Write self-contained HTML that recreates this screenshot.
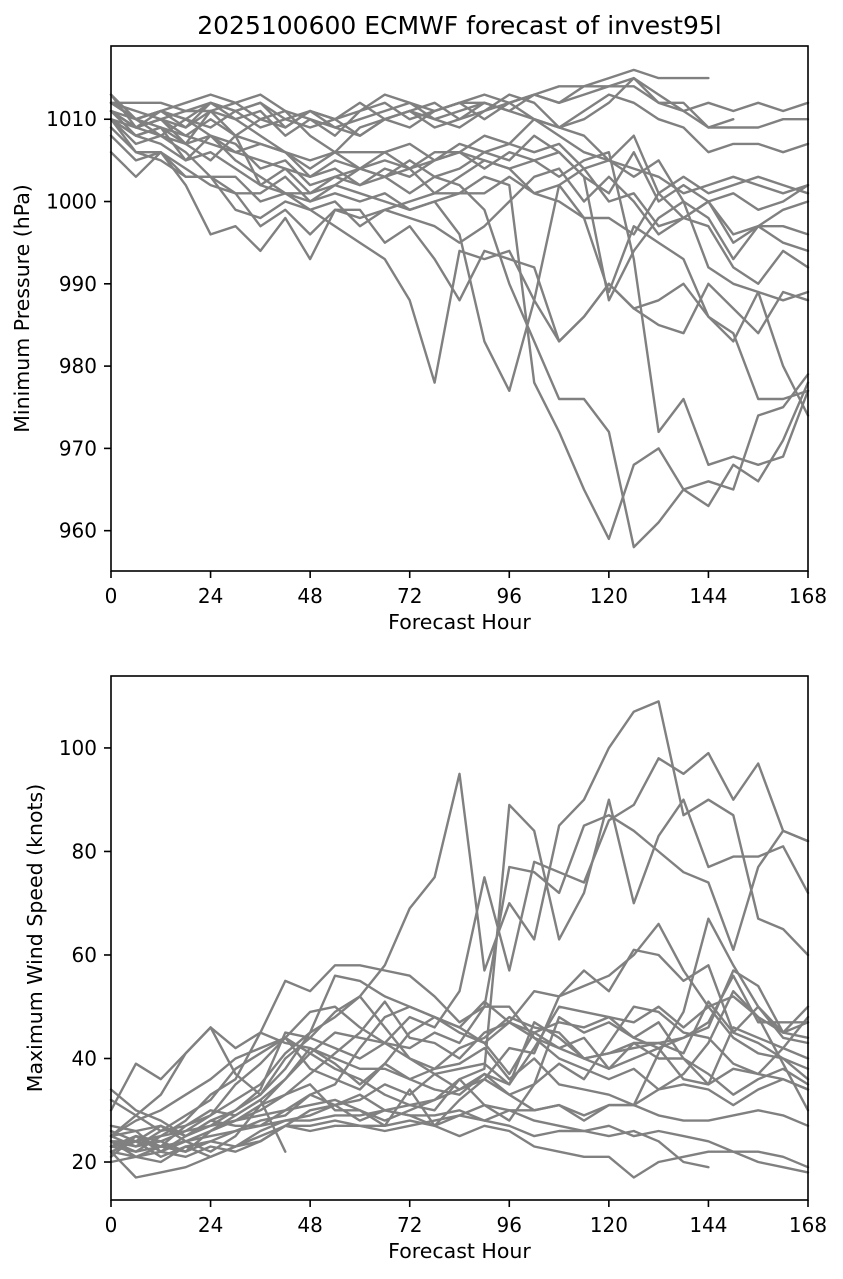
<!DOCTYPE html>
<html><head><meta charset="utf-8">
<style>
body{margin:0;background:#fff;}
svg{display:block;font-family:"DejaVu Sans","Liberation Sans",sans-serif;}
</style></head>
<body>
<svg id="chart" width="843" height="1279" viewBox="0 0 843 1279"></svg>
<script>
const hours=[0,6,12,18,24,30,36,42,48,54,60,66,72,78,84,90,96,102,108,114,120,126,132,138,144,150,156,162,168];
const xTicks=[0,24,48,72,96,120,144,168];
const pTicks=[960,970,980,990,1000,1010];
const wTicks=[20,40,60,80,100];
const pressure=[
[1012,1012,1012,1011,1011,1012,1010,1009,1011,1010,1011,1012,1010,1011,1012,1012],
[1012,1010,1011,1009,1012,1010,1011,1008,1010,1009,1010,1011,1012,1010,1011,1012,1011,1013,1014,1014,1015,1016,1015,1015,1015],
[1013,1010,1011,1012,1013,1012,1013,1011,1010,1008,1011,1013,1012,1011,1012,1010,1012,1013,1012,1013,1014,1014,1012,1011,1012,1011,1012,1011,1012],
[1011,1009,1010,1011,1012,1011,1012,1010,1009,1010,1012,1010,1009,1011,1012,1013,1012,1010,1009,1010,1012,1015,1012,1012,1009,1009,1009,1010,1010],
[1010,1008,1009,1007,1011,1008,1010,1011,1008,1006,1009,1010,1011,1009,1010,1012,1011,1010,1008,1006,1005,1003,1005,1000,998,993,997,995,994],
[1011,1008,1007,1005,1006,1004,1002,1001,1000,1001,1000,1001,999,1000,1001,1003,1002,978,972,965,959,968,970,965,963,968,966,971,978],
[1010,1009,1010,1007,1008,1006,1005,1004,1003,1004,1002,1003,1001,1003,1002,999,990,983,976,976,972,958,961,965,966,965,974,975,979],
[1010,1006,1005,1003,1003,999,998,1000,999,997,995,993,988,978,994,993,994,988,983,986,990,987,988,990,986,983,989,988,989],
[1009,1006,1006,1004,1002,1001,1001,1003,1000,1002,1001,1000,999,1000,996,983,977,988,1002,1004,1000,1001,997,998,1000,996,997,999,1000],
[1012,1011,1010,1008,1010,1008,1007,1006,1005,1006,1004,1005,1004,1006,1006,1005,1004,1005,1003,1005,1006,993,972,976,968,969,968,969,977],
[1006,1003,1006,1002,996,997,994,998,993,999,999,995,997,993,988,994,993,992,983,986,990,987,985,984,990,987,984,989,988],
[1008,1005,1006,1003,1003,1001,997,999,996,999,998,999,998,997,995,997,1000,1003,1004,1000,1003,1000,996,998,997,992,990,994,992],
[1011,1009,1010,1009,1011,1010,1008,1006,1003,1005,1004,1006,1007,1005,1006,1008,1007,1010,1009,1008,1005,1008,1001,1003,1001,1002,1003,1002,1001],
[1012,1010,1008,1010,1009,1011,1009,1010,1011,1009,1008,1010,1011,1010,1009,1011,1013,1012,1009,1011,1013,1012,1010,1009,1006,1007,1007,1006,1007],
[1010,1008,1009,1005,1008,1007,1004,1005,1002,1003,1004,1003,1005,1003,1004,1006,1005,1008,1006,1003,1001,1006,1000,1002,1000,1001,999,1000,1002],
[1011,1009,1011,1010,1008,1005,1003,1001,1001,1002,1004,1003,1004,1001,1003,1005,1004,1001,1000,998,998,996,1001,998,1000,995,997,997,996],
[1012,1010,1011,1010,1012,1011,1012,1009,1011,1010,1008,1010,1011,1012,1010,1011,1012,1013,1012,1014,1014,1015,1013,1011,1009,1010],
[1013,1009,1008,1007,1005,1008,1002,1004,1001,1003,1002,1004,1003,1005,1006,1004,1006,1005,1006,1003,988,994,998,1000,992,990,989,980,974],
[1010,1007,1008,1006,1003,1003,1000,1001,999,1000,997,999,1000,1001,1001,1001,1003,1001,1002,998,989,997,995,993,986,984,976,976,977],
[1011,1010,1009,1008,1007,1006,1007,1006,1004,1006,1006,1006,1004,1005,1007,1006,1007,1006,1007,1004,1005,1004,1003,1001,1002,1003,1002,1001,1002]
];
const wind=[
[25,23,24,26,29,32,35,41,45,48,52,58,69,75,95,57,70,63,85,90,100,107,109,87,90,87,67,65,60],
[24,22,25,28,33,36,45,55,53,58,58,57,56,52,47,50,77,76,72,85,87,84,80,76,74,61,77,84,82],
[22,17,18,19,21,23,24,27,30,31,33,30,31,32,36,38,89,84,63,72,90,70,83,90,77,79,79,81,72],
[30,39,36,41,46,37,33,40,44,42,40,43,48,46,53,75,57,78,76,74,86,89,98,95,99,90,97,84,82],
[23,25,22,24,22,25,31,36,41,45,44,43,40,37,34,36,42,41,52,57,53,61,60,55,58,45,50,44,43],
[26,24,27,25,28,30,33,38,45,56,55,52,50,48,46,43,47,53,52,54,56,60,66,57,50,52,48,45,44],
[22,24,21,23,24,26,28,29,33,35,42,48,50,48,45,43,37,45,47,46,48,44,47,40,35,38,37,42,40],
[25,29,33,41,46,42,45,43,42,40,38,38,36,34,33,37,35,47,44,40,41,42,43,41,51,45,43,40,38],
[20,21,20,23,21,23,26,28,28,29,29,30,29,29,30,28,27,25,26,26,27,25,26,25,24,22,22,21,19],
[24,21,22,21,23,22,24,27,27,28,27,27,28,27,25,27,26,23,22,21,21,17,20,21,22,22,20,19,18],
[23,22,23,22,24,23,25,27,26,27,27,26,27,28,29,31,30,28,27,26,25,26,24,20,19],
[25,28,30,33,36,40,42,44,41,38,36,33,31,30,36,31,28,35,39,36,43,50,49,45,44,39,37,36,34],
[24,24,23,27,29,35,39,44,49,50,46,43,42,45,43,50,50,44,42,40,38,40,42,36,35,46,44,42,48],
[27,26,22,25,27,30,34,45,44,49,52,46,40,38,39,42,36,40,35,34,33,31,34,37,43,53,48,39,30],
[32,29,26,27,30,29,32,36,42,39,35,39,36,38,42,44,48,46,45,40,41,43,43,44,46,57,54,45,47],
[34,30,28,25,28,27,27,28,29,31,32,35,33,37,38,39,35,42,50,49,48,47,50,46,50,44,41,40,36],
[23,24,25,26,27,28,29,30,31,32,30,28,30,32,34,37,33,30,31,28,31,31,41,49,67,58,50,45,50],
[22,21,23,24,25,26,27,30,33,31,28,30,29,27,29,28,30,30,31,29,31,31,29,28,28,29,30,29,27],
[25,26,27,24,26,28,31,33,37,41,45,51,44,43,40,45,47,44,40,38,36,38,34,35,34,31,34,36,34],
[23,25,24,22,26,29,32,22],
[21,25,23,22,26,28,30,33,35,30,30,27,34,27,32,36,33,35,48,45,47,44,42,44,47,56,47,47,47],
[24,23,26,29,32,38,41,44,38,36,34,39,45,48,46,51,47,45,42,44,38,43,40,40,37,33,36,38,35]
];
const NS="http://www.w3.org/2000/svg";
const svg=document.getElementById('chart');
function mk(tag,attrs,parent){const e=document.createElementNS(NS,tag);for(const k in attrs)e.setAttribute(k,attrs[k]);(parent||svg).appendChild(e);return e;}
function panel(cfg){
  const {L,R,T,B,ymin,ymax,ticks,series,ylabel,name}=cfg;
  const g=mk('g',{});
  
  
  const xs=h=>L+(h/168)*(R-L);
  const ys=v=>B-(v-ymin)/(ymax-ymin)*(B-T);
  series.forEach((s,i)=>{
    const pts=s.map((v,j)=>xs(hours[j]).toFixed(1)+','+ys(v).toFixed(1)).join(' ');
    const pl=mk('polyline',{points:pts,fill:'none',stroke:'#808080','stroke-width':2.4,'stroke-linejoin':'round','stroke-linecap':'round'},g);
    
    
  });
  const fr=mk('rect',{x:L,y:T,width:R-L,height:B-T,fill:'none',stroke:'#000','stroke-width':1.6},g);
  
  
  xTicks.forEach(t=>{
    mk('line',{x1:xs(t),x2:xs(t),y1:B,y2:B+7,stroke:'#000','stroke-width':1.6},g);
    const tx=mk('text',{x:xs(t),y:B+32,'text-anchor':'middle','font-size':20},g);
    tx.textContent=t;
    
    
  });
  ticks.forEach(t=>{
    mk('line',{x1:L-7,x2:L,y1:ys(t),y2:ys(t),stroke:'#000','stroke-width':1.6},g);
    const tx=mk('text',{x:L-14,y:ys(t)+7,'text-anchor':'end','font-size':20},g);
    tx.textContent=t;
    
    
  });
  const xl=mk('text',{x:(L+R)/2,y:B+58,'text-anchor':'middle','font-size':20.5},g);
  xl.textContent='Forecast Hour';
  
  
  const yl=mk('text',{x:0,y:0,'text-anchor':'middle','font-size':20.5,transform:`translate(${cfg.ylx},${(T+B)/2}) rotate(-90)`},g);
  yl.textContent=ylabel;
  
  
}
const title=mk('text',{x:459.5,y:34,'text-anchor':'middle','font-size':25});
title.textContent='2025100600 ECMWF forecast of invest95l';


panel({L:111,R:808,T:46,B:571,ymin:955.1,ymax:1018.9,ticks:pTicks,series:pressure,ylabel:'Minimum Pressure (hPa)',name:'pressure-panel',ylx:29});
panel({L:111,R:808,T:676,B:1200,ymin:12.66,ymax:113.9,ticks:wTicks,series:wind,ylabel:'Maximum Wind Speed (knots)',name:'wind-panel',ylx:42});
</script>
</body></html>
